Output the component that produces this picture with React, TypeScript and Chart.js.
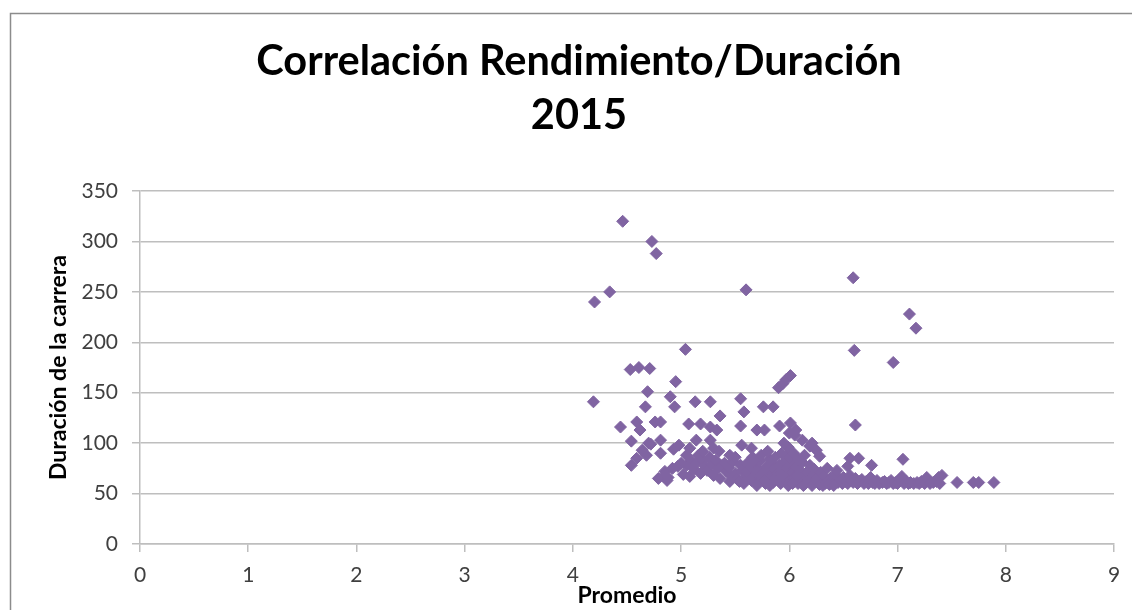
import { useEffect, useRef } from 'react';
import { Chart, registerables } from 'chart.js';

Chart.register(...registerables);

const titleLines = ['Correlación Rendimiento/Duración', '2015'];
const xAxisTitle = 'Promedio';
const yAxisTitle = 'Duración de la carrera';
const xRange = [0, 9];
const xStep = 1;
const yRange = [0, 350];
const yStep = 50;

// Promedio (x) and Duración de la carrera (y), one entry per student
const promedio = [
  4.46, 4.73, 4.77, 4.34, 4.20, 5.60, 6.59, 7.11, 7.17, 6.60, 6.96, 5.04, 4.53, 4.61, 4.71, 4.95,
  4.69, 4.19, 4.67, 4.44, 4.59, 4.62, 4.76, 4.54, 4.70, 4.64, 4.59, 4.54, 4.68, 4.79, 4.72, 4.90,
  4.94, 5.13, 5.27, 5.55, 5.58, 5.36, 4.81, 5.07, 5.18, 5.27, 5.33, 5.55, 4.81, 5.14, 5.27, 5.30,
  4.93, 5.08, 5.56, 4.81, 5.90, 5.94, 5.97, 6.01, 5.76, 5.85, 5.70, 5.77, 5.91, 6.01, 6.06, 6.12,
  6.21, 5.99, 6.19, 6.25, 6.28, 5.97, 6.61, 6.56, 6.64, 6.54, 6.76, 7.05, 7.55, 7.70, 7.75, 7.89,
  7.41, 7.36, 4.84, 4.87,
  4.85, 4.88, 4.92, 4.97, 5.00, 5.02, 5.05, 5.08, 5.10, 5.12, 5.14, 5.16, 5.18, 5.20, 5.22, 5.24,
  5.26, 5.28, 5.30, 5.32, 5.34, 5.36, 5.38, 5.40, 5.42, 5.44, 5.46, 5.48, 5.50, 5.52, 5.54, 5.55,
  5.57, 5.59, 5.61, 5.63, 5.65, 5.66, 5.68, 5.69, 5.71, 5.72, 5.73, 5.75, 5.76, 5.78, 5.79, 5.80,
  5.81, 5.83, 5.84, 5.85, 5.86, 5.88, 5.89, 5.90, 5.91, 5.92, 5.94, 5.95, 5.96, 5.97, 5.98, 5.99,
  6.00, 6.01, 6.02, 6.03, 6.04, 6.05, 6.06, 6.08, 6.09, 6.10, 6.11, 6.12, 6.14, 6.15, 6.16, 6.18,
  6.19, 6.20, 6.22, 6.23, 6.24, 6.26, 6.27, 6.29, 6.30, 6.32, 6.33, 6.35, 6.36, 6.38, 6.40, 6.42,
  6.44, 6.45, 6.47, 6.49, 6.50, 6.52, 6.54, 6.56, 6.57, 6.59, 6.61, 6.63, 6.65, 6.67, 6.69, 6.71,
  6.73, 6.75, 6.77, 6.79, 6.81, 6.83, 6.86, 6.88, 6.90, 6.92, 6.94, 6.96, 6.98, 7.00, 7.02, 7.04,
  7.06, 7.08, 7.10, 7.12, 7.15, 7.18, 7.20, 7.22, 7.25, 7.27, 7.30, 7.33, 7.38, 7.39,
  5.45, 5.58, 5.62, 5.70, 5.74, 5.77, 5.82, 5.87, 5.93, 5.99, 6.03, 6.07, 6.13, 6.17, 6.21, 6.25,
  6.28, 6.31, 6.34, 6.37, 6.41, 5.60, 5.64, 5.67, 5.74, 5.82, 5.87, 5.93, 6.00, 6.04, 6.08, 6.14,
  5.65, 5.80, 5.95, 6.00, 6.05, 5.50, 5.35, 5.45, 5.05, 5.20, 4.98,
];

const duracion = [
  320, 300, 288, 250, 240, 252, 264, 228, 214, 192, 180, 193, 173, 175, 174, 161,
  151, 141, 136, 116, 121, 113, 121, 102, 100, 93, 85, 78, 88, 65, 99, 146,
  136, 141, 141, 144, 131, 127, 121, 119, 119, 116, 113, 117, 103, 103, 103, 95,
  94, 95, 98, 90, 155, 159, 163, 167, 136, 136, 113, 113, 117, 120, 113, 103,
  100, 96, 97, 93, 87, 87, 118, 85, 85, 77, 78, 84, 61, 61, 61, 61,
  68, 62, 67, 63,
  72, 66, 75, 77, 80, 69, 78, 67, 82, 74, 80, 88, 70, 83, 77, 73,
  86, 79, 68, 83, 75, 65, 78, 80, 72, 76, 68, 82, 70, 64, 62, 78,
  73, 67, 80, 71, 63, 86, 77, 68, 74, 62, 82, 66, 70, 60, 76, 64,
  72, 68, 80, 61, 74, 66, 70, 63, 78, 60, 72, 67, 82, 62, 75, 69,
  60, 64, 80, 71, 66, 62, 76, 60, 69, 73, 63, 81, 67, 60, 71, 64,
  78, 61, 68, 74, 62, 66, 60, 71, 63, 67, 60, 75, 62, 65, 60, 69,
  73, 61, 64, 60, 66, 62, 60, 68, 63, 61, 65, 60, 62, 64, 60, 62,
  60, 66, 61, 60, 63, 60, 61, 62, 60, 61, 63, 60, 61, 60, 64, 67,
  60, 62, 60, 61, 60, 61, 60, 62, 60, 66, 60, 61, 66, 60,
  62, 60, 66, 58, 69, 63, 58, 65, 68, 58, 60, 67, 58, 62, 58, 64,
  59, 58, 61, 59, 58, 72, 76, 82, 88, 84, 86, 90, 86, 90, 84, 88,
  95, 92, 100, 110, 108, 86, 92, 88, 88, 92, 98,
];

const markerColor = '#8064A2';
const gridColor = '#BEBEBE';
const labelColor = '#404040';
const fontFamily = 'Lato, "Open Sans", sans-serif';

const framePlugin = {
  id: 'frame',
  beforeDraw(chart: any) {
    const { ctx, width, height } = chart;
    ctx.save();
    ctx.fillStyle = '#ffffff';
    ctx.fillRect(0, 0, width, height);
    ctx.strokeStyle = '#8C8C8C';
    ctx.lineWidth = 1.5;
    ctx.strokeRect(10.5, 13.5, width + 40, height + 40);
    ctx.restore();
  },
};

export default function App() {
  const canvasRef = useRef<HTMLCanvasElement | null>(null);

  useEffect(() => {
    if (!canvasRef.current) return;
    const points = promedio.map((x, i) => ({ x, y: duracion[i] }));
    const chart = new Chart(canvasRef.current, {
      type: 'scatter',
      data: {
        datasets: [
          {
            label: 'Duración',
            data: points,
            pointStyle: 'rectRot',
            pointRadius: 6,
            pointBorderWidth: 1,
            backgroundColor: markerColor,
            borderColor: markerColor,
          },
        ],
      },
      plugins: [framePlugin],
      options: {
        responsive: false,
        animation: false,
        devicePixelRatio: 1,
        layout: { padding: { left: 44, right: 18, top: 0, bottom: 0 } },
        plugins: {
          legend: { display: false },
          tooltip: { enabled: false },
          title: {
            display: true,
            text: titleLines,
            color: '#000000',
            font: { family: fontFamily, size: 41.5, weight: 'bold', lineHeight: 1.28 },
            padding: { top: 35.5, bottom: 49.3 },
          },
        },
        scales: {
          x: {
            type: 'linear',
            position: 'bottom',
            min: xRange[0],
            max: xRange[1],
            ticks: {
              stepSize: xStep,
              color: labelColor,
              font: { family: fontFamily, size: 21 },
              padding: 11,
            },
            grid: { drawOnChartArea: false, drawTicks: true, tickLength: 8, color: gridColor, lineWidth: 1.5 },
            border: { display: true, color: gridColor, width: 1.5 },
            title: {
              display: true,
              text: xAxisTitle,
              color: '#000000',
              font: { family: fontFamily, size: 23, weight: 'bold', lineHeight: 1.2 },
              padding: { top: 0, bottom: 1 },
            },
            afterFit: (scale: any) => {
              scale.height = 66;
            },
          },
          y: {
            type: 'linear',
            min: yRange[0],
            max: yRange[1],
            ticks: {
              stepSize: yStep,
              color: labelColor,
              font: { family: fontFamily, size: 21 },
              padding: 14,
            },
            grid: { drawTicks: true, tickLength: 8, color: gridColor, lineWidth: 1.5 },
            border: { display: true, color: gridColor, width: 1.5 },
            title: {
              display: true,
              text: yAxisTitle,
              color: '#000000',
              font: { family: fontFamily, size: 23, weight: 'bold', lineHeight: 1.2 },
              padding: { top: 1, bottom: 0 },
            },
            afterFit: (scale: any) => {
              scale.width = 96;
            },
          },
        },
      },
    } as any);
    return () => chart.destroy();
  }, []);

  return (
    <div style={{ position: 'fixed', left: 0, top: 0, width: 1132, height: 610, background: '#fff' }}>
      <canvas ref={canvasRef} width={1132} height={610} style={{ width: 1132, height: 610, display: 'block' }} />
    </div>
  );
}
